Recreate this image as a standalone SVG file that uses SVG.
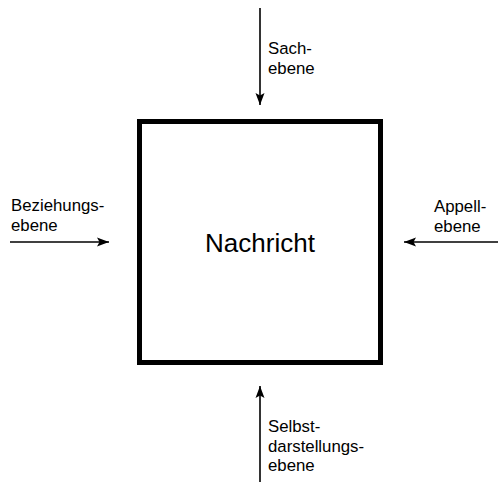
<svg xmlns="http://www.w3.org/2000/svg" width="498" height="482" viewBox="0 0 498 482">
<style>
.lbl{font-family:"Liberation Sans",Arial,sans-serif;font-size:16.8px;fill:#000}
.main{font-family:"Liberation Sans",Arial,sans-serif;font-size:26px;fill:#000}
.conn{stroke:#000;stroke-width:1.6;fill:none}
</style>
<defs>
<marker id="ah" markerUnits="userSpaceOnUse" markerWidth="13" markerHeight="10" refX="12" refY="5" orient="auto" viewBox="0 0 13 10">
<path d="M0,0.5 L12,5 L0,9.5 L2.5,5 z" fill="#000"/>
</marker>
</defs>
<rect width="498" height="482" fill="#fff"/>
<g id="connectors">
<line class="conn" x1="260" y1="8" x2="260" y2="105" marker-end="url(#ah)"/>
<line class="conn" x1="10" y1="242" x2="109" y2="242" marker-end="url(#ah)"/>
<line class="conn" x1="498" y1="242" x2="404" y2="242" marker-end="url(#ah)"/>
<line class="conn" x1="260" y1="482" x2="260" y2="386" marker-end="url(#ah)"/>
</g>
<g id="nachricht">
<rect x="139.5" y="121.5" width="241" height="241" fill="#fff" stroke="#000" stroke-width="5"/>
<text class="main" x="260" y="252" text-anchor="middle">Nachricht</text>
</g>
<g id="sachebene">
<text class="lbl" x="268" y="54"><tspan x="268">Sach-</tspan><tspan x="268" dy="19.5">ebene</tspan></text>
</g>
<g id="beziehungsebene">
<text class="lbl" x="11" y="211"><tspan x="11">Beziehungs-</tspan><tspan x="11" dy="19.5">ebene</tspan></text>
</g>
<g id="appellebene">
<text class="lbl" x="434" y="212"><tspan x="434">Appell-</tspan><tspan x="434" dy="19.5">ebene</tspan></text>
</g>
<g id="selbstdarstellungsebene">
<text class="lbl" x="268" y="432"><tspan x="268">Selbst-</tspan><tspan x="268" dy="19.5">darstellungs-</tspan><tspan x="268" dy="19.5">ebene</tspan></text>
</g>
</svg>
